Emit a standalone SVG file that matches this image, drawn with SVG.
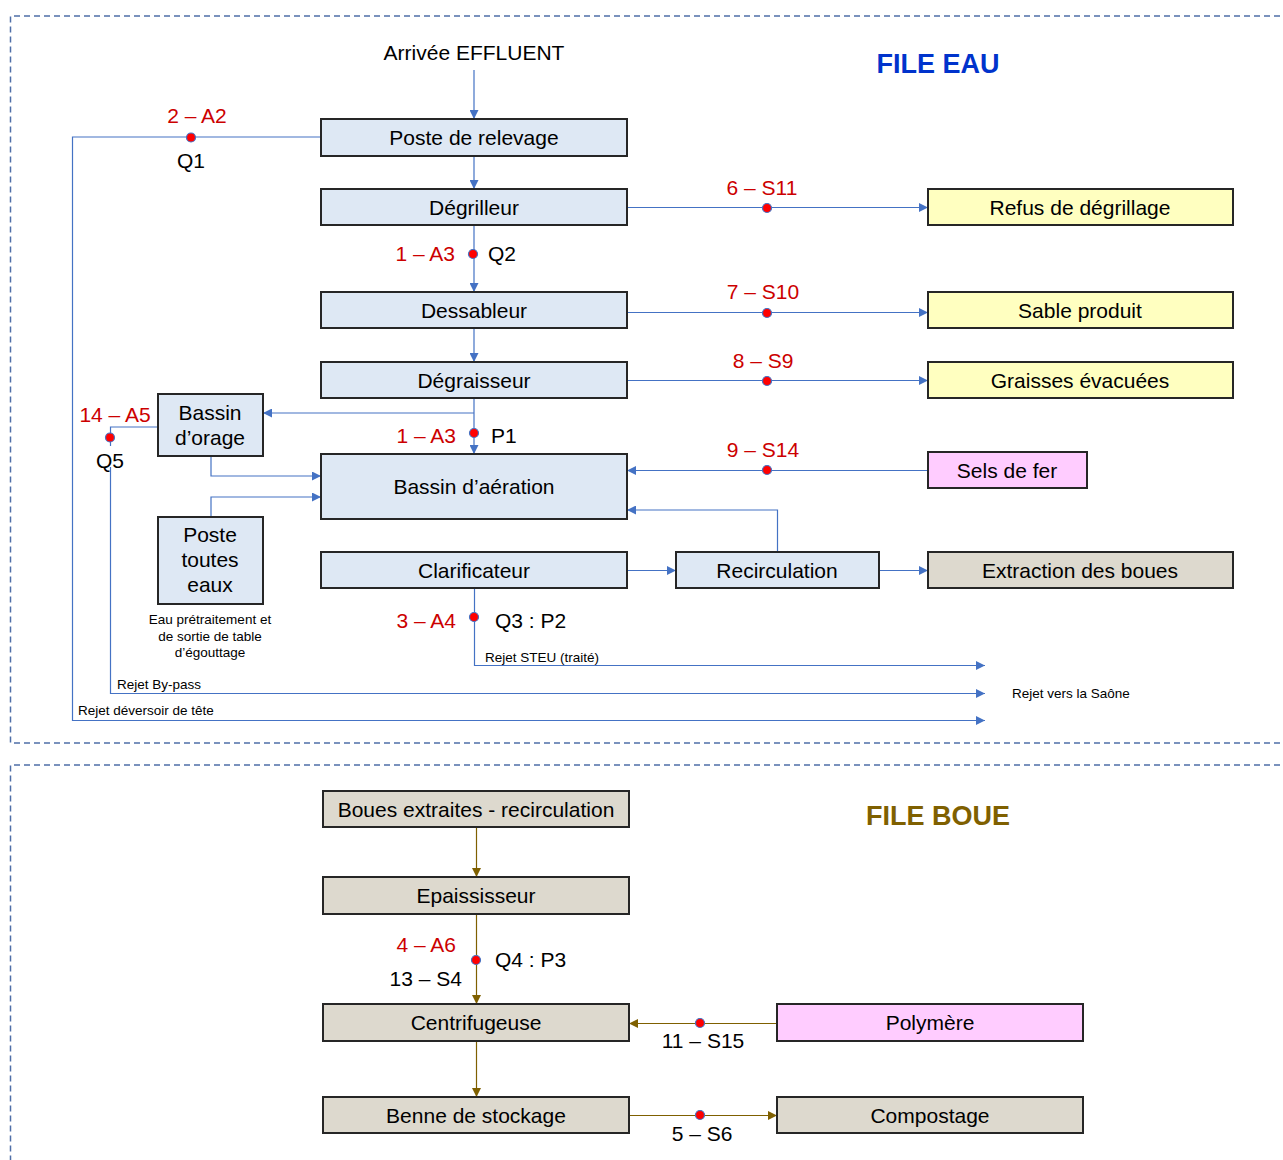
<svg xmlns="http://www.w3.org/2000/svg" width="1283" height="1160" viewBox="0 0 1283 1160">
<style>
text{font-family:"Liberation Sans",Arial,sans-serif;}
.box rect{stroke:#262626;stroke-width:2;}
.blue rect{fill:#DEE8F4;}
.yel rect{fill:#FFFFC0;}
.pink rect{fill:#FFCCFF;}
.beige rect{fill:#DDD9CE;}
.lbl{font-size:21px;fill:#000;text-anchor:middle;}
.red{font-size:21px;fill:#CC0000;}
.blk{font-size:21px;fill:#000;}
.sm{font-size:13.5px;fill:#000;}
.c{stroke:#4472C4;stroke-width:1.2;fill:none;}
.cb{stroke:#7F6000;stroke-width:1.2;fill:none;}
.dot{fill:#FF0000;stroke:#4472C4;stroke-width:1.2;}
.frame{fill:none;stroke:#4F6FA8;stroke-width:1.5;stroke-dasharray:6 4;}
</style>
<defs>
<marker id="ab" viewBox="0 0 10 10" refX="10" refY="5" markerWidth="9" markerHeight="9" markerUnits="userSpaceOnUse" orient="auto"><path d="M0,0L10,5L0,10z" fill="#4472C4"/></marker>
<marker id="am" viewBox="0 0 10 10" refX="10" refY="5" markerWidth="9" markerHeight="9" markerUnits="userSpaceOnUse" orient="auto"><path d="M0,0L10,5L0,10z" fill="#7F6000"/></marker>
</defs>
<rect width="1283" height="1160" fill="#fff"/>
<path class="frame" d="M1290,16H10.5V743H1290"/>
<path class="frame" d="M1290,765H10.5V1165"/>
<text x="938" y="73" font-size="27" font-weight="bold" fill="#0033CC" text-anchor="middle">FILE EAU</text>
<text x="938" y="825" font-size="27" font-weight="bold" fill="#7F6000" text-anchor="middle">FILE BOUE</text>
<text x="474" y="60" class="lbl">Arrivée EFFLUENT</text>

<g id="connectors">
<path class="c" d="M474,70V119" marker-end="url(#ab)"/>
<path class="c" d="M474,156V189" marker-end="url(#ab)"/>
<path class="c" d="M474,225V292" marker-end="url(#ab)"/>
<path class="c" d="M474,328V362" marker-end="url(#ab)"/>
<path class="c" d="M474,398V454" marker-end="url(#ab)"/>
<path class="c" d="M474,413H263" marker-end="url(#ab)"/>
<path class="c" d="M321,137H72.5V720.5H985" marker-end="url(#ab)"/>
<path class="c" d="M158,427H110.5V693.5H985" marker-end="url(#ab)"/>
<path class="c" d="M211,456V476H321" marker-end="url(#ab)"/>
<path class="c" d="M211,517V497H321" marker-end="url(#ab)"/>
<path class="c" d="M627,207.5H928" marker-end="url(#ab)"/>
<path class="c" d="M627,312.5H928" marker-end="url(#ab)"/>
<path class="c" d="M627,380.5H928" marker-end="url(#ab)"/>
<path class="c" d="M928,470.5H627" marker-end="url(#ab)"/>
<path class="c" d="M777.5,552V510H627" marker-end="url(#ab)"/>
<path class="c" d="M627,570.5H676" marker-end="url(#ab)"/>
<path class="c" d="M879,570.5H928" marker-end="url(#ab)"/>
<path class="c" d="M474.5,588V665.5H985" marker-end="url(#ab)"/>
<path class="cb" d="M476.5,827V877" marker-end="url(#am)"/>
<path class="cb" d="M476.5,914V1004" marker-end="url(#am)"/>
<path class="cb" d="M777,1023.5H629" marker-end="url(#am)"/>
<path class="cb" d="M476.5,1041V1097" marker-end="url(#am)"/>
<path class="cb" d="M629,1115.5H777" marker-end="url(#am)"/>
<circle class="dot" cx="191" cy="137.5" r="4.5"/>
<circle class="dot" cx="473" cy="254" r="4.5"/>
<circle class="dot" cx="767" cy="208" r="4.5"/>
<circle class="dot" cx="767" cy="313" r="4.5"/>
<circle class="dot" cx="767" cy="381" r="4.5"/>
<circle class="dot" cx="767" cy="470" r="4.5"/>
<circle class="dot" cx="474" cy="433" r="4.5"/>
<circle class="dot" cx="110" cy="437.5" r="4.5"/>
<circle class="dot" cx="474" cy="617" r="4.5"/>
<circle class="dot" cx="476" cy="960" r="4.5"/>
<circle class="dot" cx="700" cy="1023" r="4.5"/>
<circle class="dot" cx="700" cy="1115" r="4.5"/>
</g>

<g id="n-poste-relevage" class="box blue"><rect x="321" y="119" width="306" height="37"/><text x="474" y="145" class="lbl">Poste de relevage</text></g>
<g id="n-degrilleur" class="box blue"><rect x="321" y="189" width="306" height="36"/><text x="474" y="214.5" class="lbl">Dégrilleur</text></g>
<g id="n-dessableur" class="box blue"><rect x="321" y="292" width="306" height="36"/><text x="474" y="317.5" class="lbl">Dessableur</text></g>
<g id="n-degraisseur" class="box blue"><rect x="321" y="362" width="306" height="36"/><text x="474" y="387.5" class="lbl">Dégraisseur</text></g>
<g id="n-bassin-aeration" class="box blue"><rect x="321" y="454" width="306" height="65"/><text x="474" y="494" class="lbl">Bassin d’aération</text></g>
<g id="n-clarificateur" class="box blue"><rect x="321" y="552" width="306" height="36"/><text x="474" y="577.5" class="lbl">Clarificateur</text></g>
<g id="n-recirculation" class="box blue"><rect x="676" y="552" width="203" height="36"/><text x="777" y="577.5" class="lbl">Recirculation</text></g>
<g id="n-extraction" class="box beige"><rect x="928" y="552" width="305" height="36"/><text x="1080" y="577.5" class="lbl">Extraction des boues</text></g>
<g id="n-refus" class="box yel"><rect x="928" y="189" width="305" height="36"/><text x="1080" y="214.5" class="lbl">Refus de dégrillage</text></g>
<g id="n-sable" class="box yel"><rect x="928" y="292" width="305" height="36"/><text x="1080" y="317.5" class="lbl">Sable produit</text></g>
<g id="n-graisses" class="box yel"><rect x="928" y="362" width="305" height="36"/><text x="1080" y="387.5" class="lbl">Graisses évacuées</text></g>
<g id="n-sels" class="box pink"><rect x="928" y="452" width="159" height="36"/><text x="1007" y="477.5" class="lbl">Sels de fer</text></g>
<g id="n-bassin-orage" class="box blue"><rect x="158" y="394" width="105" height="62"/><text x="210" y="420" class="lbl">Bassin</text><text x="210" y="445" class="lbl">d’orage</text></g>
<g id="n-poste-toutes-eaux" class="box blue"><rect x="158" y="517" width="105" height="87"/><text x="210" y="542" class="lbl">Poste</text><text x="210" y="567" class="lbl">toutes</text><text x="210" y="592" class="lbl">eaux</text></g>

<g id="n-boues-extraites" class="box beige"><rect x="323" y="791" width="306" height="36"/><text x="476" y="816.5" class="lbl">Boues extraites - recirculation</text></g>
<g id="n-epaississeur" class="box beige"><rect x="323" y="877" width="306" height="37"/><text x="476" y="903" class="lbl">Epaississeur</text></g>
<g id="n-centrifugeuse" class="box beige"><rect x="323" y="1004" width="306" height="37"/><text x="476" y="1030" class="lbl">Centrifugeuse</text></g>
<g id="n-benne" class="box beige"><rect x="323" y="1097" width="306" height="36"/><text x="476" y="1122.5" class="lbl">Benne de stockage</text></g>
<g id="n-polymere" class="box pink"><rect x="777" y="1004" width="306" height="37"/><text x="930" y="1030" class="lbl">Polymère</text></g>
<g id="n-compostage" class="box beige"><rect x="777" y="1097" width="306" height="36"/><text x="930" y="1122.5" class="lbl">Compostage</text></g>

<g id="labels">
<text x="197" y="123" class="red" text-anchor="middle">2 – A2</text>
<text x="191" y="168" class="blk" text-anchor="middle">Q1</text>
<text x="455" y="261" class="red" text-anchor="end">1 – A3</text>
<text x="488" y="261" class="blk">Q2</text>
<text x="762" y="195" class="red" text-anchor="middle">6 – S11</text>
<text x="763" y="299" class="red" text-anchor="middle">7 – S10</text>
<text x="763" y="368" class="red" text-anchor="middle">8 – S9</text>
<text x="115" y="422" class="red" text-anchor="middle">14 – A5</text>
<rect x="95" y="446" width="30" height="21" fill="#fff"/>
<text x="110" y="468" class="blk" text-anchor="middle">Q5</text>
<text x="456" y="443" class="red" text-anchor="end">1 – A3</text>
<text x="491" y="443" class="blk">P1</text>
<text x="763" y="457" class="red" text-anchor="middle">9 – S14</text>
<text x="456" y="628" class="red" text-anchor="end">3 – A4</text>
<text x="495" y="628" class="blk">Q3 : P2</text>
<text x="485" y="662" class="sm">Rejet STEU (traité)</text>
<text x="117" y="689" class="sm">Rejet By-pass</text>
<text x="78" y="715" class="sm">Rejet déversoir de tête</text>
<text x="1012" y="698" class="sm">Rejet vers la Saône</text>
<text x="210" y="624" class="sm" text-anchor="middle">Eau prétraitement et</text>
<text x="210" y="641" class="sm" text-anchor="middle">de sortie de table</text>
<text x="210" y="657" class="sm" text-anchor="middle">d’égouttage</text>
<text x="456" y="952" class="red" text-anchor="end">4 – A6</text>
<text x="495" y="967" class="blk">Q4 : P3</text>
<text x="462" y="986" class="blk" text-anchor="end">13 – S4</text>
<text x="703" y="1048" class="blk" text-anchor="middle">11 – S15</text>
<text x="702" y="1141" class="blk" text-anchor="middle">5 – S6</text>
</g>
</svg>
